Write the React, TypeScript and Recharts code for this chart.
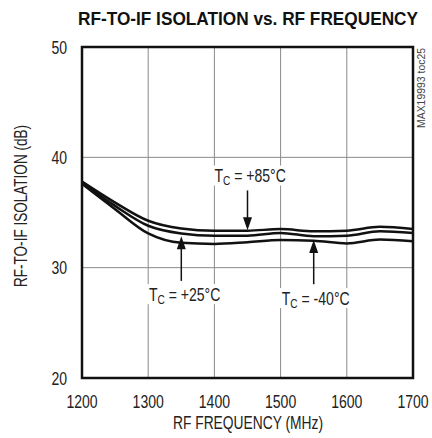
import React from "react";
import {
  LineChart,
  Line,
  XAxis,
  YAxis,
  CartesianGrid,
  ReferenceArea,
  ReferenceLine,
  ReferenceDot,
} from "recharts";

const FONT = "'Liberation Sans', Arial, sans-serif";
const SQUEEZE = 0.78; // condensed look, no narrow font is installed

// RF frequency (MHz)
const frequencies = [1200, 1250, 1300, 1350, 1400, 1450, 1500, 1550, 1600, 1650, 1700];
// isolation (dB) per case temperature
const tc85 = [37.8, 35.9, 34.25, 33.55, 33.35, 33.35, 33.5, 33.3, 33.35, 33.7, 33.5];
const tc25 = [37.7, 35.6, 33.8, 33.1, 32.9, 32.9, 33.15, 32.85, 32.9, 33.3, 33.15];
const tcm40 = [37.6, 35.3, 33.1, 32.25, 32.15, 32.3, 32.5, 32.45, 32.2, 32.55, 32.4];

const xTicks = [1200, 1300, 1400, 1500, 1600, 1700];
const yTicks = [20, 30, 40, 50];

// annotation labels and arrows, in data units
const labels = [
  { text: "+85°C", x: 1454, y: 38.35 },
  { text: "+25°C", x: 1355, y: 27.6 },
  { text: "-40°C", x: 1553, y: 27.25 },
];
const arrows = [
  { x: 1450, from: 37.0, to: 33.4 },
  { x: 1350, from: 28.8, to: 32.85 },
  { x: 1550, from: 28.5, to: 32.5 },
];

const data = frequencies.map((f, i) => ({
  freq: f,
  tc85: tc85[i],
  tc25: tc25[i],
  tcm40: tcm40[i],
}));

const Narrow = ({ x, y, anchor = "middle", size = 18, rotate = 0, children, ...rest }: any) => (
  <text
    transform={`translate(${x},${y}) rotate(${rotate}) scale(${SQUEEZE},1)`}
    textAnchor={anchor}
    fontFamily={FONT}
    fontSize={size}
    fill="#222"
    {...rest}
  >
    {children}
  </text>
);

const XTick = (props: any) => {
  const { x, y, payload } = props;
  return <Narrow x={x} y={y + 13}>{payload.value}</Narrow>;
};

const YTick = (props: any) => {
  const { x, y, payload } = props;
  return <Narrow x={x} y={y + 6.5} anchor="end">{payload.value}</Narrow>;
};

const Arrow = (props: any) => {
  const { x1, y1, x2, y2 } = props;
  const dir = y2 > y1 ? 1 : -1;
  const head = 13;
  return (
    <g>
      <line x1={x1} y1={y1} x2={x2} y2={y2 - dir * (head - 2)} stroke="#111" strokeWidth={1.5} />
      <polygon
        points={`${x2},${y2} ${x2 - 4.5},${y2 - dir * head} ${x2 + 4.5},${y2 - dir * head}`}
        fill="#111"
      />
    </g>
  );
};

const makeLabel = (text: string) => (props: any) => {
  const { cx, cy } = props;
  return (
    <g>
      <rect x={cx - 38} y={cy - 10} width={76} height={20} fill="#fff" />
      <Narrow x={cx} y={cy + 6.5}>
        <tspan>T</tspan>
        <tspan fontSize={13} dy={3}>C</tspan>
        <tspan dy={-3}>{` = ${text}`}</tspan>
      </Narrow>
    </g>
  );
};

const App: React.FC = () => {
  return (
    <div style={{ position: "absolute", left: 0, top: 0, width: 432, height: 438, background: "#fff" }}>
      <LineChart
        width={432}
        height={438}
        data={data}
        margin={{ top: 47, right: 19, bottom: 0, left: 42 }}
      >
        <CartesianGrid stroke="#8a8a8a" strokeWidth={1} />
        <XAxis
          dataKey="freq"
          type="number"
          domain={[1200, 1700]}
          ticks={xTicks}
          axisLine={false}
          tickLine={false}
          tickSize={0}
          tickMargin={17}
          height={60}
          tick={<XTick />}
        />
        <YAxis
          type="number"
          domain={[20, 50]}
          ticks={yTicks}
          axisLine={false}
          tickLine={false}
          tickSize={0}
          tickMargin={15}
          width={40}
          tick={<YTick />}
        />
        {labels.map((l) => (
          <ReferenceDot key={l.text} x={l.x} y={l.y} shape={makeLabel(l.text)} ifOverflow="visible" />
        ))}
        {arrows.map((a, i) => (
          <ReferenceLine
            key={i}
            segment={[{ x: a.x, y: a.from }, { x: a.x, y: a.to }]}
            shape={Arrow}
            ifOverflow="visible"
          />
        ))}
        <Line type="monotone" dataKey="tc85" stroke="#111" strokeWidth={2.5} dot={false} isAnimationActive={false} />
        <Line type="monotone" dataKey="tc25" stroke="#111" strokeWidth={2.5} dot={false} isAnimationActive={false} />
        <Line type="monotone" dataKey="tcm40" stroke="#111" strokeWidth={2.5} dot={false} isAnimationActive={false} />
        <ReferenceArea
          x1={1200}
          x2={1700}
          y1={20}
          y2={50}
          fill="none"
          fillOpacity={0}
          stroke="#111"
          strokeWidth={2.5}
          ifOverflow="visible"
        />
      </LineChart>
      <svg
        width={432}
        height={438}
        style={{ position: "absolute", left: 0, top: 0, pointerEvents: "none" }}
      >
        <text
          x={248}
          y={25}
          textAnchor="middle"
          fontFamily={FONT}
          fontWeight="bold"
          fontSize={18}
          fill="#111"
          textLength={340}
          lengthAdjust="spacingAndGlyphs"
        >
          RF-TO-IF ISOLATION vs. RF FREQUENCY
        </text>
        <text
          x={248}
          y={429}
          textAnchor="middle"
          fontFamily={FONT}
          fontSize={18}
          fill="#222"
          textLength={150}
          lengthAdjust="spacingAndGlyphs"
        >
          RF FREQUENCY (MHz)
        </text>
        <text
          x={27}
          y={206}
          textAnchor="middle"
          fontFamily={FONT}
          fontSize={18}
          fill="#222"
          textLength={162}
          lengthAdjust="spacingAndGlyphs"
          transform="rotate(-90 27 206)"
        >
          RF-TO-IF ISOLATION (dB)
        </text>
        <text
          x={425}
          y={48}
          textAnchor="end"
          fontFamily={FONT}
          fontSize={10}
          fill="#444"
          textLength={80}
          lengthAdjust="spacingAndGlyphs"
          transform="rotate(-90 425 48)"
        >
          MAX19993 toc25
        </text>
      </svg>
    </div>
  );
};

export default App;
